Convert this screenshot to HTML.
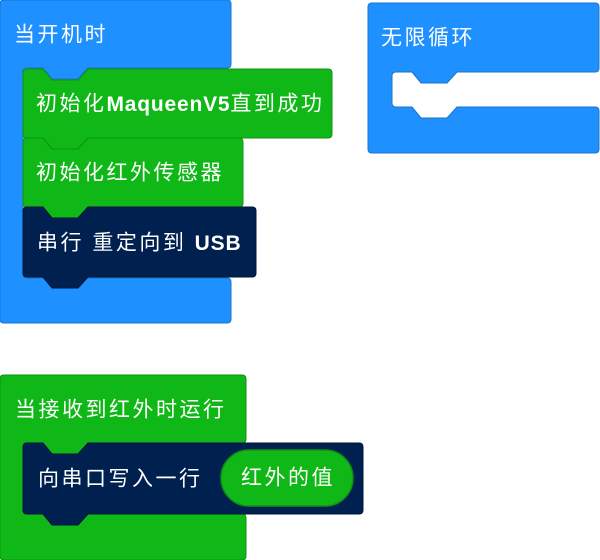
<!DOCTYPE html>
<html><head><meta charset="utf-8"><style>
html,body{margin:0;padding:0;background:#fff;width:600px;height:560px;overflow:hidden}
svg text{font-family:"Liberation Sans","Noto Sans CJK SC",sans-serif;font-size:21px;fill:#fff;dominant-baseline:central;letter-spacing:2.5px}
svg tspan.l{letter-spacing:0.8px;font-weight:bold}
</style></head><body>
<svg width="600" height="560" viewBox="0 0 600 560" xmlns="http://www.w3.org/2000/svg">
<path d="M4,0 H227 Q231,0 231,4 V64 Q231,68 227,68 H88 L78,79 H52 L43,68 H27 Q23,68 23,72 V274 Q23,278 27,278 H227 Q231,278 231,282 V319 Q231,323 227,323 H4 Q0,323 0,319 V4 Q0,0 4,0Z" fill="#1e90ff" stroke="#1a73cc" stroke-width="1"/>
<text x="14" y="35">当开机时</text>
<path d="M27,69 H43 L52,80 H78 L88,69 H328 Q332,69 332,73 V134 Q332,138 328,138 H88 L78,149 H52 L43,138 H27 Q23,138 23,134 V73 Q23,69 27,69Z" fill="#10b817" stroke="#0d9312" stroke-width="1"/>
<text x="36" y="104">初始化<tspan class="l">MaqueenV5</tspan>直到成功</text>
<path d="M27,138 H43 L52,149 H78 L88,138 H239 Q243,138 243,142 V203 Q243,207 239,207 H88 L78,218 H52 L43,207 H27 Q23,207 23,203 V142 Q23,138 27,138Z" fill="#10b817" stroke="#0d9312" stroke-width="1"/>
<text x="36" y="173">初始化红外传感器</text>
<path d="M27,207 H43 L52,218 H78 L88,207 H252 Q256,207 256,211 V273 Q256,277 252,277 H88 L78,288 H52 L43,277 H27 Q23,277 23,273 V211 Q23,207 27,207Z" fill="#002050" stroke="#001638" stroke-width="1"/>
<text x="37" y="243">串行 重定向到 <tspan class="l">USB</tspan></text>
<path d="M372,3 H595 Q599,3 599,7 V68 Q599,72 595,72 H457 L447,83 H421 L412,72 H396 Q392,72 392,76 V103 Q392,107 396,107 H412 L421,118 H447 L457,107 H595 Q599,107 599,111 V149 Q599,153 595,153 H372 Q368,153 368,149 V7 Q368,3 372,3Z" fill="#1e90ff" stroke="#1a73cc" stroke-width="1"/>
<text x="381" y="38">无限循环</text>
<path d="M4,375 H242 Q246,375 246,379 V439 Q246,443 242,443 H88 L78,454 H52 L43,443 H27 Q23,443 23,447 V510 Q23,514 27,514 H242 Q246,514 246,518 V556 Q246,560 242,560 H4 Q0,560 0,556 V379 Q0,375 4,375Z" fill="#10b817" stroke="#0d9312" stroke-width="1"/>
<text x="15" y="410">当接收到红外时运行</text>
<path d="M27,443 H43 L52,454 H78 L88,443 H359 Q363,443 363,447 V510 Q363,514 359,514 H88 L78,525 H52 L43,514 H27 Q23,514 23,510 V447 Q23,443 27,443Z" fill="#002050" stroke="#001638" stroke-width="1"/>
<text x="38" y="479">向串口写入一行</text>
<rect x="221" y="450" width="132" height="56" rx="28" fill="#10b817" stroke="#0d9312" stroke-width="1.5"/>
<text x="288" y="478" text-anchor="middle">红外的值</text>
</svg>
</body></html>
